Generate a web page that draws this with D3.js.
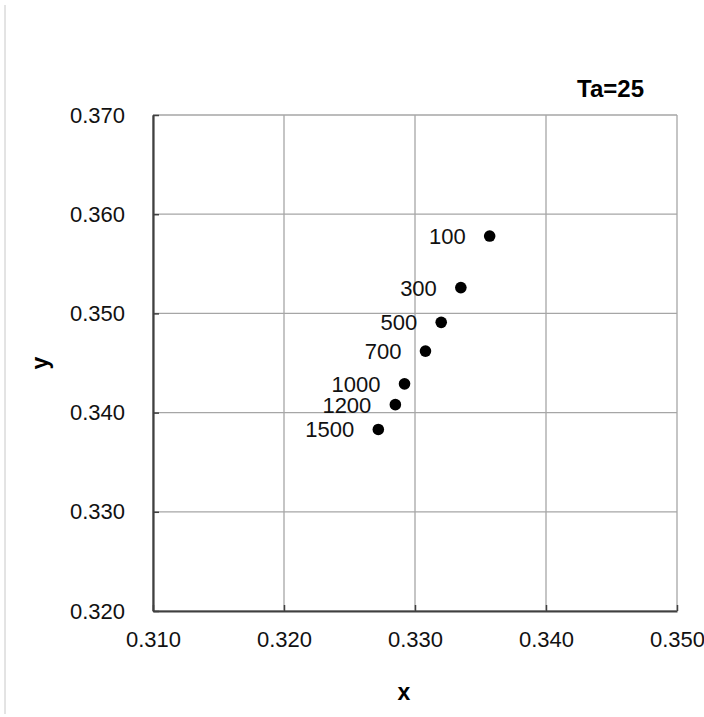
<!DOCTYPE html>
<html>
<head>
<meta charset="utf-8">
<script src="https://cdn.jsdelivr.net/npm/d3@7"></script>
<style>
  html, body { margin: 0; padding: 0; background: #fff; }
  svg { display: block; font-family: "Liberation Sans", Arial, sans-serif; }
</style>
</head>
<body>
<svg id="chart" width="704" height="717"></svg>
<script>
// Chromaticity coordinates (x, y) at each illuminance level
const levels = ["100", "300", "500", "700", "1000", "1200", "1500"];
const xValues = [0.3357, 0.3335, 0.3320, 0.3308, 0.3292, 0.3285, 0.3272];
const yValues = [0.3578, 0.3526, 0.3491, 0.3462, 0.3429, 0.3408, 0.3383];

const xTicks = [0.310, 0.320, 0.330, 0.340, 0.350];
const yTicks = [0.320, 0.330, 0.340, 0.350, 0.360, 0.370];
const chartTitle = "Ta=25";

const svg = d3.select("#chart");
const margin = { left: 153, top: 115, right: 27, bottom: 106 };
const W = 704, H = 717;

const x = d3.scaleLinear().domain([0.310, 0.350]).range([margin.left, W - margin.right]);
const y = d3.scaleLinear().domain([0.320, 0.370]).range([H - margin.bottom, margin.top]);

// Thin frame line down the left edge of the figure
svg.append("line")
  .attr("x1", 5).attr("x2", 5).attr("y1", 5).attr("y2", 714)
  .attr("stroke", "#c8c8c8").attr("stroke-width", 1);

// Gridlines (the outermost ones also close the plot frame at top and right)
const grid = svg.append("g");
grid.selectAll("line.gx").data(xTicks).join("line")
  .attr("x1", d => x(d)).attr("x2", d => x(d))
  .attr("y1", y(0.370)).attr("y2", y(0.320))
  .attr("stroke", "#a6a6a6").attr("stroke-width", 1.3);
grid.selectAll("line.gy").data(yTicks).join("line")
  .attr("x1", x(0.310)).attr("x2", x(0.350))
  .attr("y1", d => y(d)).attr("y2", d => y(d))
  .attr("stroke", "#a6a6a6").attr("stroke-width", 1.3);

// Axes with short inward ticks
const fmt = d3.format(".3f");
const xAxis = svg.append("g")
  .attr("transform", `translate(0,${y(0.320)})`)
  .call(d3.axisBottom(x).tickValues(xTicks).tickFormat(fmt)
    .tickSizeInner(-6).tickSizeOuter(0).tickPadding(16));
const yAxis = svg.append("g")
  .attr("transform", `translate(${x(0.310)},0)`)
  .call(d3.axisLeft(y).tickValues(yTicks).tickFormat(fmt)
    .tickSizeInner(-6).tickSizeOuter(0).tickPadding(28));

[xAxis, yAxis].forEach(g => {
  g.select(".domain").attr("stroke", "#404040").attr("stroke-width", 2.2);
  g.selectAll(".tick line").attr("stroke", "#404040").attr("stroke-width", 1.5);
  g.selectAll(".tick text")
    .attr("fill", "#111")
    .style("font-size", "22px")
    .style("font-family", "'Liberation Sans', Arial, sans-serif");
});
xAxis.selectAll(".tick text").attr("dy", "0.9em");

// Points
svg.append("g").selectAll("circle").data(levels).join("circle")
  .attr("cx", (d, i) => x(xValues[i]))
  .attr("cy", (d, i) => y(yValues[i]))
  .attr("r", 5.8)
  .attr("fill", "#000");

// Point labels, set to the left of each marker
svg.append("g").selectAll("text").data(levels).join("text")
  .attr("x", (d, i) => x(xValues[i]) - 24)
  .attr("y", (d, i) => y(yValues[i]))
  .attr("dy", "0.36em")
  .attr("text-anchor", "end")
  .attr("fill", "#111")
  .style("font-size", "22px")
  .text(d => d);

// Axis titles
svg.append("text")
  .attr("x", x(0.330) - 11).attr("y", 700)
  .attr("text-anchor", "middle")
  .style("font-size", "23px").style("font-weight", "bold")
  .text("x");
svg.append("text")
  .attr("transform", `translate(48,${(y(0.320) + y(0.370)) / 2}) rotate(-90)`)
  .attr("text-anchor", "middle")
  .style("font-size", "23px").style("font-weight", "bold")
  .text("y");

// Annotation above the plot area
svg.append("text")
  .attr("x", 644).attr("y", 97)
  .attr("text-anchor", "end")
  .style("font-size", "24px").style("font-weight", "bold")
  .text(chartTitle);
</script>
</body>
</html>
